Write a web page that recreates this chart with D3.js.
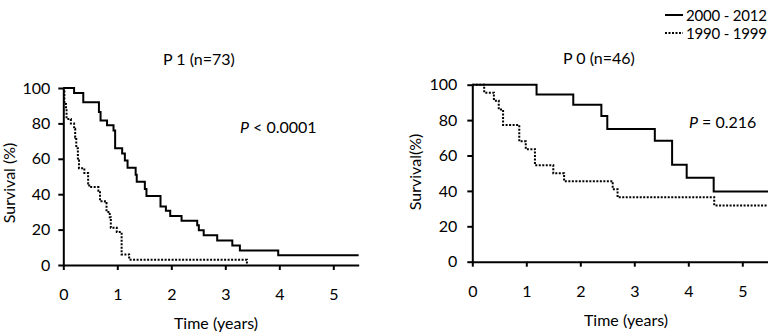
<!DOCTYPE html>
<html>
<head>
<meta charset="utf-8">
<script src="https://cdn.jsdelivr.net/npm/d3@7"></script>
<style>
    body { margin: 0; background: #fff; }
    svg text { font-family: Lato, "Open Sans", sans-serif; fill: #000; }
    .axis path, .axis line { stroke: #000; stroke-width: 2; }
    .axis text { font-size: 16px; font-family: Lato, sans-serif; }
    .curve { fill: none; stroke: #000; stroke-width: 2; }
    .dotted { stroke-dasharray: 2, 1.5; }
</style>
</head>
<body>
<svg id="chart" width="768" height="336"></svg>
<script>
//////////////////// DATA ////////////////////
// P 1 panel, 2000 - 2012 (solid)
const p1RecentTime = [0, 0.20, 0.37, 0.66, 0.69, 0.81, 0.93, 0.96, 1.09, 1.14, 1.19, 1.34, 1.36, 1.51, 1.54, 1.80, 1.90, 1.98, 2.19, 2.48, 2.51, 2.60, 2.85, 3.13, 3.27, 3.98, 5.47];
const p1RecentSurv = [100, 97.2, 91.9, 86.5, 81.7, 79, 76, 66, 63, 59, 55, 51, 47, 43, 39, 33, 30.6, 27.7, 25, 22.5, 19.6, 16.8, 13.9, 11, 8.2, 5.5, 5.5];

// P 1 panel, 1990 - 1999 (dotted)
const p1EarlyTime = [0, 0.02, 0.05, 0.06, 0.14, 0.20, 0.22, 0.24, 0.27, 0.29, 0.39, 0.46, 0.48, 0.65, 0.68, 0.77, 0.80, 0.86, 0.88, 0.99, 1.08, 1.22, 3.40];
const p1EarlySurv = [100, 91, 88, 82.5, 80, 77, 72, 66, 59, 54.7, 52, 46, 44, 42, 36, 35, 30, 27, 21, 18.6, 6, 3, 0];

// P 0 panel, 2000 - 2012 (solid)
const p0RecentTime = [0, 1.19, 1.87, 2.39, 2.50, 3.38, 3.70, 3.97, 4.47, 5.48];
const p0RecentSurv = [100, 94.4, 88.7, 82.3, 75, 68.4, 54.8, 47.5, 39.7, 39.7];

// P 0 panel, 1990 - 1999 (dotted)
const p0EarlyTime = [0, 0.22, 0.40, 0.49, 0.57, 0.87, 0.99, 1.16, 1.50, 1.70, 2.60, 2.69, 4.48, 5.48];
const p0EarlySurv = [100, 95.5, 91, 86, 77.3, 68, 63.6, 54.5, 50, 45.5, 41, 36.4, 31.8, 31.8];

const xTicks = [0, 1, 2, 3, 4, 5];
const yTicks = [0, 20, 40, 60, 80, 100];
const panelTitles = ["P 1 (n=73)", "P 0 (n=46)"];
const pSigns = ["< 0.0001", "= 0.216"];
const yLabels = ["Survival (%)", "Survival(%)"];
const legendLabels = ["2000 - 2012", "1990 - 1999"];


//////////////////// LAYOUT ////////////////////
const svg = d3.select("#chart");

const panels = [
    {
        left: 63.3, bottom: 265, top: 88, maxT: 5.47, pxPerYear: 54,
        recent: [p1RecentTime, p1RecentSurv], early: [p1EarlyTime, p1EarlySurv],
        title: panelTitles[0], titleX: 163, titleY: 65,
        p: pSigns[0], pX: 240, pY: 133,
        yLabel: yLabels[0], yLabelX: 15, yLabelY: 183, yPad: 8,
        xLabelX: 216, xLabelY: 329
    },
    {
        left: 472.3, bottom: 261.7, top: 84.7, maxT: 5.48, pxPerYear: 54,
        recent: [p0RecentTime, p0RecentSurv], early: [p0EarlyTime, p0EarlySurv],
        title: panelTitles[1], titleX: 563, titleY: 64,
        p: pSigns[1], pX: 689, pY: 128,
        yLabel: yLabels[1], yLabelX: 421, yLabelY: 172, yPad: 10,
        xLabelX: 626, xLabelY: 326
    }
];


//////////////////// DRAW PANELS ////////////////////
panels.forEach(p => {

    // scalers
    const x = d3.scaleLinear()
        .domain([0, p.maxT])
        .range([p.left, p.left + p.maxT * p.pxPerYear]);
    const y = d3.scaleLinear()
        .domain([0, 100])
        .range([p.bottom, p.top]);

    // x-axis
    svg.append("g")
        .attr("class", "axis")
        .attr("transform", `translate(0, ${p.bottom})`)
        .call(d3.axisBottom(x).tickValues(xTicks).tickSize(5).tickSizeOuter(0).tickPadding(19).tickFormat(d3.format("d")));

    // y-axis
    svg.append("g")
        .attr("class", "axis")
        .attr("transform", `translate(${p.left}, 0)`)
        .call(d3.axisLeft(y).tickValues(yTicks).tickSize(5).tickSizeOuter(0).tickPadding(p.yPad));

    // step lines (dotted first so the solid sits on top)
    const line = d3.line()
        .x(d => x(d[0]))
        .y(d => y(d[1]))
        .curve(d3.curveStepAfter);

    svg.append("path")
        .attr("class", "curve dotted")
        .attr("d", line(d3.zip(p.early[0], p.early[1])));

    svg.append("path")
        .attr("class", "curve")
        .attr("d", line(d3.zip(p.recent[0], p.recent[1])));

    // title
    svg.append("text")
        .attr("x", p.titleX)
        .attr("y", p.titleY)
        .style("font-size", "16px")
        .text(p.title);

    // p-value
    const pText = svg.append("text")
        .attr("x", p.pX)
        .attr("y", p.pY)
        .style("font-size", "16px");
    pText.append("tspan").style("font-style", "italic").text("P");
    pText.append("tspan").text(" " + p.p);

    // axis labels
    svg.append("text")
        .attr("text-anchor", "middle")
        .attr("transform", `translate(${p.yLabelX}, ${p.yLabelY}) rotate(-90)`)
        .style("font-size", "16px")
        .text(p.yLabel);

    svg.append("text")
        .attr("text-anchor", "middle")
        .attr("x", p.xLabelX)
        .attr("y", p.xLabelY)
        .style("font-size", "16px")
        .text("Time (years)");
});


//////////////////// LEGEND ////////////////////
const legendY = [15, 33];
legendLabels.forEach((label, i) => {
    svg.append("line")
        .attr("class", i === 0 ? "curve" : "curve dotted")
        .attr("x1", 665)
        .attr("x2", 683)
        .attr("y1", legendY[i])
        .attr("y2", legendY[i]);
    svg.append("text")
        .attr("x", 686)
        .attr("y", legendY[i] + 5.5)
        .style("font-size", "15px")
        .attr("textLength", 81)
        .text(label);
});
</script>
</body>
</html>
